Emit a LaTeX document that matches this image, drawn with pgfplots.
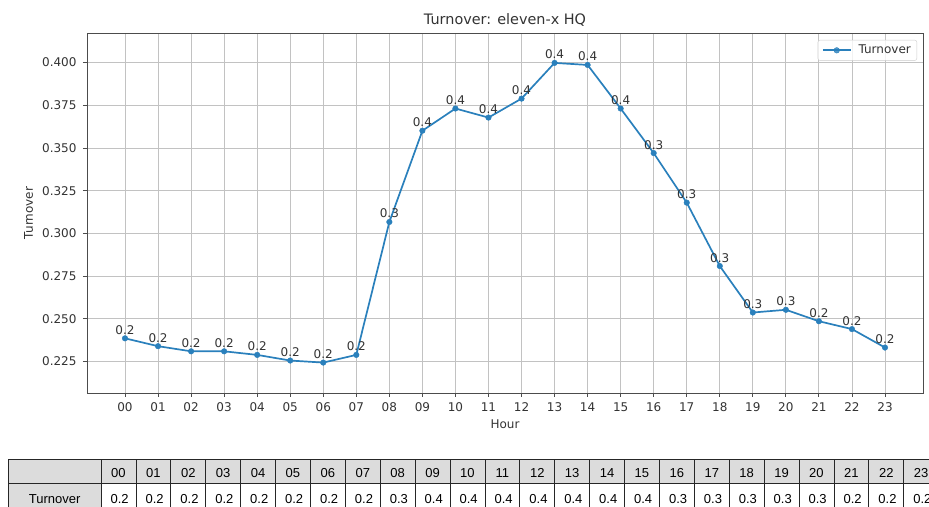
\documentclass[border=0pt]{standalone}
\usepackage{fontspec}
\setmainfont{DejaVu Sans}
\newfontfamily\tabfont{Liberation Sans}
\usepackage{pgfplots}
\pgfplotsset{compat=1.18}
\definecolor{tblue}{HTML}{2A80BC}
\definecolor{txt}{HTML}{333333}
\definecolor{cellgray}{HTML}{DCDCDC}
\begin{document}
\begin{tikzpicture}
\useasboundingbox (0,0) rectangle (929pt,506pt);
\begin{axis}[
  at={(87pt,113pt)}, anchor=south west,
  scale only axis, width=836pt, height=360pt,
  xmin=-1.15, xmax=24.15, ymin=0.2066, ymax=0.4173,
  xtick={0,...,23},
  xticklabels={00,01,02,03,04,05,06,07,08,09,10,11,12,13,14,15,16,17,18,19,20,21,22,23},
  ytick={0.225,0.250,0.275,0.300,0.325,0.350,0.375,0.400},
  /pgf/number format/assume math mode=true,
  tick label style={font=\fontsize{12}{14}\selectfont, color=txt},
  xticklabel style={anchor=base, inner sep=0pt, yshift=-14.7pt},
  yticklabel style={anchor=east, inner sep=0pt, xshift=-6.3pt, /pgf/number format/fixed, /pgf/number format/fixed zerofill, /pgf/number format/precision=3},
  grid=major, major grid style={black!24, line width=0.9pt},
  axis line style={black!70, line width=0.9pt},
  tick style={black!70, line width=0.9pt},
  tick align=outside, major tick length=4pt, tick pos=left,
  title={Turnover: eleven-x HQ},
  title style={font=\fontsize{14.4}{17}\selectfont, color=txt, at={(axis description cs:0.5,1.0083)}, anchor=base, inner sep=0pt},
  xlabel={Hour}, ylabel={Turnover},
  label style={font=\fontsize{12}{14}\selectfont, color=txt},
  xlabel style={at={(axis description cs:0.5,-0.0986)}, anchor=base, inner sep=0pt},
  ylabel style={at={(axis description cs:-0.0646,0.5)}, anchor=base, inner sep=0pt},
  legend style={at={(axis description cs:1,1)}, xshift=-6pt, yshift=-7pt, anchor=north east,
    draw=black!20, rounded corners=2pt, fill=white, fill opacity=0.8, text opacity=1,
    font=\fontsize{12}{14}\selectfont, text=txt, inner xsep=4pt, inner ysep=3pt, column sep=5pt},
  legend cell align=left,
  legend image code/.code={\draw[mark repeat=2,mark phase=2] plot coordinates {(0pt,0pt)(14pt,0pt)(28pt,0pt)};},
]
\addplot[tblue, line width=1.7pt, mark=*, mark size=2.8pt, mark options={line width=0.4pt},
  point meta=y, nodes near coords={\pgfmathprintnumber[assume math mode=true,fixed,fixed zerofill,precision=1]{\pgfplotspointmeta}},
  every node near coord/.append style={font=\fontsize{12}{14}\selectfont, color=txt, anchor=base, inner sep=0pt, yshift=4pt}]
coordinates {(0,0.2386)(1,0.2340)(2,0.2310)(3,0.2310)(4,0.2289)(5,0.2256)(6,0.2244)(7,0.2289)(8,0.3067)(9,0.3601)(10,0.3731)(11,0.3678)(12,0.3789)(13,0.3998)(14,0.3986)(15,0.3731)(16,0.3470)(17,0.3180)(18,0.2809)(19,0.2537)(20,0.2553)(21,0.2486)(22,0.2440)(23,0.2332)};
\addlegendentry{Turnover}
\end{axis}
\begin{scope}
\clip (0,0) rectangle (929pt,506pt);
\fill[cellgray] (8.3pt,22.7pt) rectangle (938.6pt,47pt);
\fill[cellgray] (8.3pt,-2pt) rectangle (101pt,22.7pt);
\draw[black!85, line width=0.8pt] (8.3pt,47pt) -- (938.6pt,47pt);
\draw[black!85, line width=0.8pt] (8.3pt,22.7pt) -- (938.6pt,22.7pt);
\draw[black!85, line width=0.8pt] (8.3pt,-2pt) -- (8.3pt,47pt);
\foreach \i in {0,...,24} {\draw[black!85, line width=0.8pt] ({101pt+34.9pt*\i},-2pt) -- ({101pt+34.9pt*\i},47pt);}
\node[font=\tabfont\fontsize{13}{15}\selectfont, anchor=base, inner sep=0pt] at (54.7pt,2pt) {Turnover};
\foreach \h [count=\i from 0] in {00,01,02,03,04,05,06,07,08,09,10,11,12,13,14,15,16,17,18,19,20,21,22,23}
  {\node[font=\tabfont\fontsize{13}{15}\selectfont, anchor=base, inner sep=0pt] at ({101pt+34.9pt*(\i+0.5)},28.3pt) {\h};}
\foreach \v [count=\i from 0] in {0.2,0.2,0.2,0.2,0.2,0.2,0.2,0.2,0.3,0.4,0.4,0.4,0.4,0.4,0.4,0.4,0.3,0.3,0.3,0.3,0.3,0.2,0.2,0.2}
  {\node[font=\tabfont\fontsize{13}{15}\selectfont, anchor=base east, inner sep=0pt] at ({101pt+34.9pt*(\i+1)-7pt},2pt) {\v};}
\end{scope}
\end{tikzpicture}
\end{document}
